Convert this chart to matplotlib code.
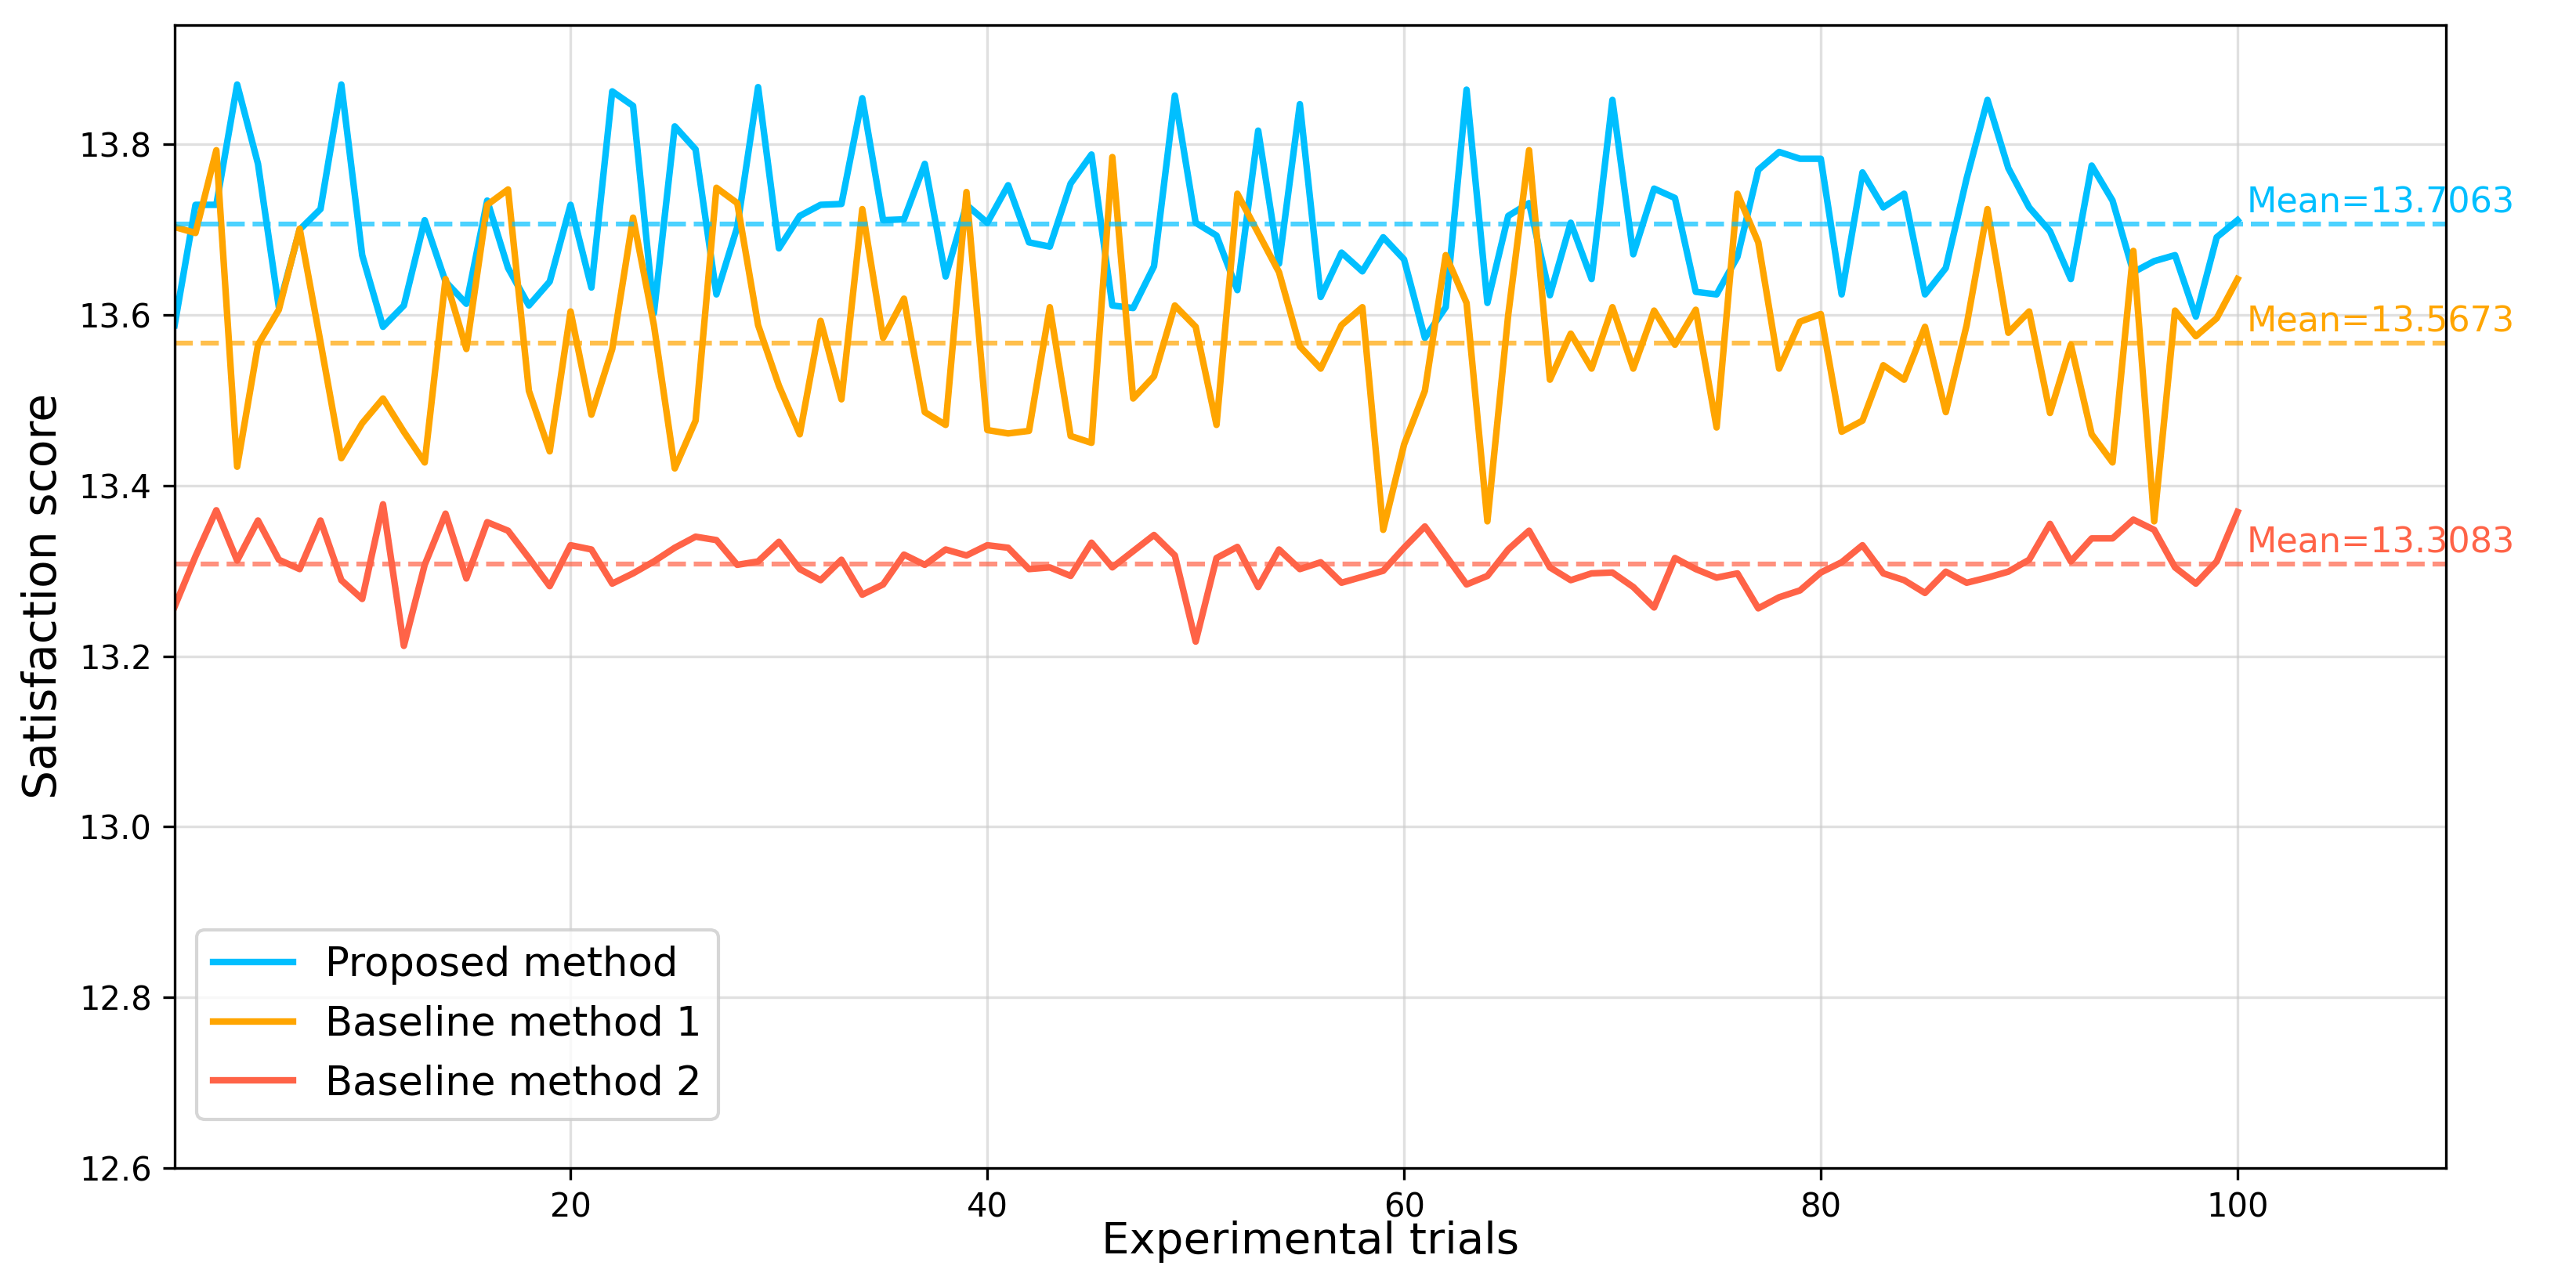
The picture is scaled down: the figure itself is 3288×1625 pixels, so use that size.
import numpy as np
import matplotlib
matplotlib.use('Agg')
import matplotlib.pyplot as plt

# ─────────────────────────────────────────
# DATA
# ─────────────────────────────────────────
trials = np.arange(1, 101)

proposed = [
    13.588, 13.729, 13.729, 13.870, 13.777, 13.609, 13.700, 13.724, 13.870, 13.670,
    13.586, 13.611, 13.711, 13.639, 13.613, 13.734, 13.655, 13.611, 13.639, 13.729,
    13.632, 13.862, 13.845, 13.602, 13.821, 13.794, 13.624, 13.703, 13.867, 13.678,
    13.716, 13.729, 13.730, 13.854, 13.711, 13.712, 13.777, 13.645, 13.729, 13.708,
    13.752, 13.685, 13.680, 13.754, 13.788, 13.611, 13.608, 13.657, 13.857, 13.708,
    13.693, 13.629, 13.816, 13.660, 13.847, 13.621, 13.673, 13.651, 13.691, 13.665,
    13.573, 13.609, 13.864, 13.614, 13.716, 13.731, 13.623, 13.708, 13.642, 13.852,
    13.671, 13.748, 13.737, 13.627, 13.624, 13.668, 13.770, 13.791, 13.783, 13.783,
    13.624, 13.767, 13.726, 13.742, 13.624, 13.655, 13.760, 13.852, 13.772, 13.726,
    13.698, 13.642, 13.775, 13.734, 13.650, 13.663, 13.670, 13.598, 13.691, 13.711,
]

baseline1 = [
    13.703, 13.696, 13.793, 13.422, 13.565, 13.606, 13.701, 13.568, 13.432, 13.473,
    13.502, 13.463, 13.427, 13.642, 13.560, 13.729, 13.747, 13.511, 13.440, 13.604,
    13.483, 13.560, 13.714, 13.588, 13.420, 13.476, 13.749, 13.731, 13.588, 13.517,
    13.460, 13.593, 13.501, 13.724, 13.573, 13.619, 13.486, 13.471, 13.744, 13.465,
    13.461, 13.464, 13.609, 13.458, 13.450, 13.785, 13.502, 13.528, 13.611, 13.586,
    13.471, 13.742, 13.696, 13.650, 13.563, 13.537, 13.588, 13.609, 13.348, 13.448,
    13.511, 13.670, 13.614, 13.358, 13.600, 13.793, 13.524, 13.578, 13.537, 13.609,
    13.537, 13.605, 13.565, 13.606, 13.468, 13.742, 13.685, 13.537, 13.592, 13.601,
    13.463, 13.476, 13.541, 13.524, 13.586, 13.486, 13.588, 13.724, 13.579, 13.604,
    13.485, 13.565, 13.460, 13.427, 13.675, 13.358, 13.605, 13.575, 13.596, 13.642,
]

baseline2 = [
    13.258, 13.317, 13.371, 13.312, 13.359, 13.313, 13.302, 13.359, 13.289, 13.267,
    13.378, 13.212, 13.307, 13.367, 13.291, 13.357, 13.347, 13.315, 13.282, 13.330,
    13.325, 13.285, 13.297, 13.311, 13.327, 13.340, 13.336, 13.307, 13.311, 13.334,
    13.302, 13.289, 13.313, 13.272, 13.284, 13.319, 13.307, 13.325, 13.318, 13.330,
    13.327, 13.302, 13.304, 13.294, 13.333, 13.304, 13.323, 13.342, 13.318, 13.217,
    13.315, 13.328, 13.281, 13.325, 13.302, 13.310, 13.286, 13.293, 13.300, 13.327,
    13.352, 13.318, 13.284, 13.294, 13.325, 13.347, 13.304, 13.289, 13.297, 13.298,
    13.281, 13.257, 13.315, 13.302, 13.292, 13.297, 13.256, 13.269, 13.277, 13.298,
    13.310, 13.330, 13.297, 13.289, 13.274, 13.299, 13.286, 13.292, 13.299, 13.313,
    13.355, 13.311, 13.338, 13.338, 13.360, 13.348, 13.304, 13.285, 13.311, 13.369,
]

labels = ['Proposed method', 'Baseline method 1', 'Baseline method 2']
means = [13.7063, 13.5673, 13.3083]
colors = ['#00BFFF', '#FFA500', '#FF6347']

# ─────────────────────────────────────────
# PLOT
# ─────────────────────────────────────────
fig = plt.figure(figsize=(10.96, 5.4167), dpi=300)
ax = fig.add_axes([0.0678, 0.0825, 0.8817, 0.8980])

for series, lab, col in zip([proposed, baseline1, baseline2], labels, colors):
    ax.plot(trials, series, color=col, linewidth=2, label=lab)

for m, col in zip(means, colors):
    ax.axhline(m, color=col, linestyle='--', linewidth=1.5, alpha=0.7)
    ax.text(100.45, m + 0.005, f'Mean={m:.4f}', color=col, fontsize=10.7,
            ha='left', va='bottom')

ax.set_xlim(1, 110)
ax.set_ylim(12.6, 13.94)
ax.set_xticks([20, 40, 60, 80, 100])
yt = np.arange(12.6, 13.81, 0.2)
ax.set_yticks(yt)
ax.set_yticklabels([f'{v:.1f}' for v in yt])
ax.tick_params(labelsize=10)
ax.grid(True, color='#cccccc', alpha=0.6, linewidth=0.8)
ax.set_axisbelow(True)

ax.set_xlabel('Experimental trials', fontsize=13.5, labelpad=-1)
ax.set_ylabel('Satisfaction score', fontsize=14)
ax.legend(loc='lower left', fontsize=12.3, bbox_to_anchor=(0.001, 0.025))

plt.savefig('out.png', dpi=300)
plt.close()
